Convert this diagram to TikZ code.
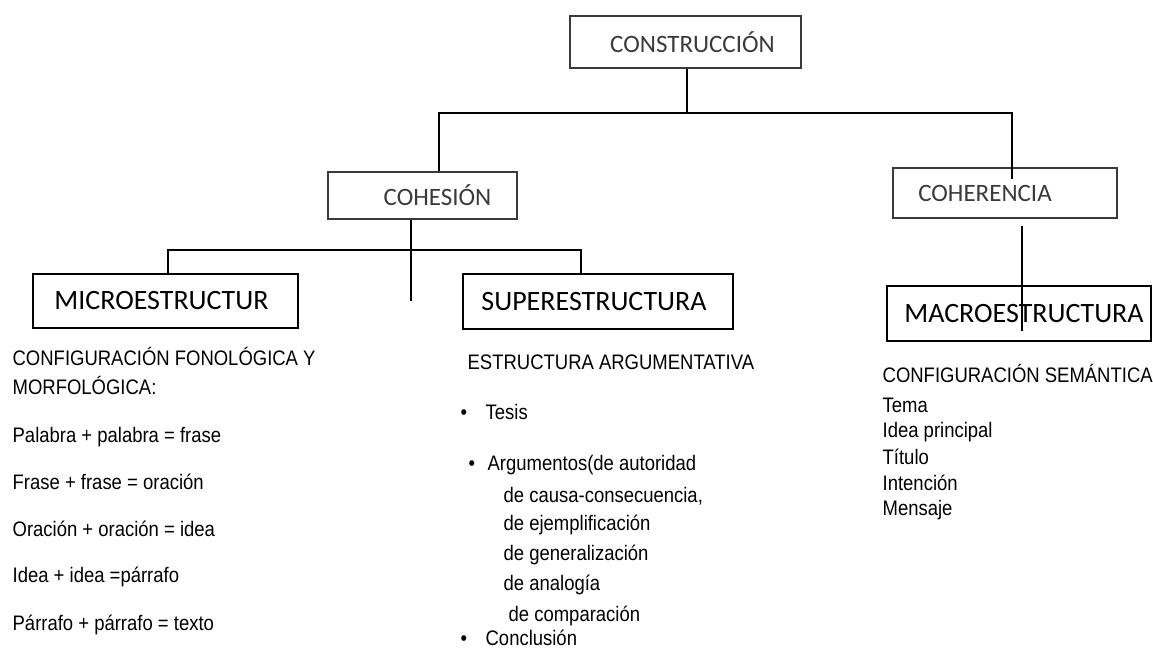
\documentclass[tikz,border=0pt]{standalone}
\usepackage{fontspec}
\setmainfont{Liberation Sans}[FakeStretch=0.88]
\newfontfamily\boxfont{Carlito}
\usepackage{tikz}
\definecolor{gray1}{HTML}{3a3a3a}
\newcommand{\bodysize}{\fontsize{21pt}{25pt}\selectfont}

\begin{document}
\begin{tikzpicture}[x=1pt, y=-1pt, line width=1.3pt,
  box/.style={draw, rectangle, inner sep=0pt, font=\boxfont\fontsize{28pt}{30pt}\selectfont},
  topbox/.style={box, draw=gray1, text=gray1, font=\boxfont\fontsize{25pt}{27pt}\selectfont},
  txt/.style={anchor=base west, inner sep=0pt, font=\bodysize}]
\useasboundingbox (0,0) rectangle (1153,651);

\node[topbox, minimum width=231pt, minimum height=52pt] (construccion) at (685.5,42) {\hspace{14pt}CONSTRUCCIÓN};
\node[topbox, minimum width=189pt, minimum height=47pt] (cohesion) at (422.5,195.5) {\hspace{30pt}COHESIÓN};
\node[topbox, minimum width=224pt, minimum height=50pt] (coherencia) at (1005,193) {COHERENCIA\rule{40pt}{0pt}};

\node[box, minimum width=265pt, minimum height=54pt] (micro) at (165.5,301) {MICROESTRUCTUR\rule{8pt}{0pt}};
\node[box, minimum width=270pt, minimum height=55pt] (super) at (598,301.5) {SUPERESTRUCTURA\rule{8pt}{0pt}};
\node[box, minimum width=264pt, minimum height=55pt] (macro) at (1019,313.5) {\hspace{10pt}MACROESTRUCTURA};

\coordinate (hub) at (687,113);
\coordinate (cbar) at (411,250);

\draw (construccion.south -| hub) -- (hub);
\draw ([xshift=16.5pt]cohesion.north) |- (hub) -| ([xshift=7pt,yshift=-12pt]coherencia.north);
\draw ([xshift=-11.5pt]cohesion.south) -- ++(0,81);
\draw ([xshift=2.5pt]micro.north) |- (cbar) -| ([xshift=-17pt]super.north);
\draw ([xshift=17pt,yshift=-7pt]coherencia.south) -- ([xshift=3pt,yshift=11pt]macro.south);

% microestructura
\node[txt] (m1) at (12,365) {CONFIGURACIÓN FONOLÓGICA Y};
\node[txt] (m2) at (12,394) {MORFOLÓGICA:};
\node[txt] (m3) at (12,442) {Palabra + palabra = frase};
\node[txt] (m4) at (12,489) {Frase + frase = oración};
\node[txt] (m5) at (12,536) {Oración + oración = idea};
\node[txt] (m6) at (12,582) {Idea + idea =párrafo};
\node[txt] (m7) at (12,630) {Párrafo + párrafo = texto};

% superestructura
\node[txt] (s1) at (467,369) {ESTRUCTURA ARGUMENTATIVA};
\node[txt] (s2) at (460,419) {\makebox[25pt][l]{•}Tesis};
\node[txt] (s3) at (468,470) {\makebox[19pt][l]{•}Argumentos(de autoridad};
\node[txt] (s4) at (503,502) {de causa-consecuencia,};
\node[txt] (s5) at (503,530) {de ejemplificación};
\node[txt] (s6) at (503,560) {de generalización};
\node[txt] (s7) at (503,590) {de analogía};
\node[txt] (s8) at (508,621) {de comparación};
\node[txt] (s9) at (460,645) {\makebox[25pt][l]{•}Conclusión};

% macroestructura
\node[txt] (r1) at (882,382) {CONFIGURACIÓN SEMÁNTICA};
\node[txt] (r2) at (882,412) {Tema};
\node[txt] (r3) at (882,437) {Idea principal};
\node[txt] (r4) at (882,464) {Título};
\node[txt] (r5) at (882,490) {Intención};
\node[txt] (r6) at (882,515) {Mensaje};
\end{tikzpicture}
\end{document}
